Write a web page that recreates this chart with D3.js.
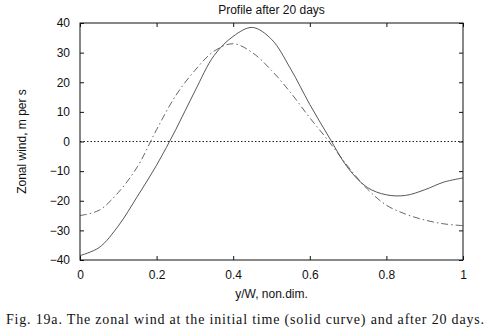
<!DOCTYPE html>
<html>
<head>
<meta charset="utf-8">
<script src="https://cdn.jsdelivr.net/npm/d3@7"></script>
<style>
  body { margin: 0; background: #fff; }
  svg { display: block; }
</style>
</head>
<body>
<div id="chart"></div>
<script>
// y/W positions and wind values (m/s)
const yPos = [0, 0.05, 0.1, 0.15, 0.2, 0.25, 0.3, 0.35, 0.4, 0.45, 0.5, 0.55, 0.6, 0.65, 0.7, 0.75, 0.8, 0.85, 0.9, 0.95, 1];
const initialWind = [-38.5, -35.8, -28.5, -18.5, -8, 4, 17, 29, 35.5, 38.5, 34.5, 24.5, 12.5, 1.5, -9, -15.5, -18, -18.2, -16.3, -13.7, -12.3];
const after20Wind = [-25, -23.2, -17.2, -8.5, 4, 15.5, 24, 30.5, 33, 30, 24, 16.5, 8, 0, -8.5, -16, -21.5, -24.5, -26.5, -27.8, -28.4];
const xTicks = [0, 0.2, 0.4, 0.6, 0.8, 1];
const yTicks = [-40, -30, -20, -10, 0, 10, 20, 30, 40];

const W = 490, H = 336;
const m = { top: 23, right: 27, bottom: 76, left: 80 };
const w = W - m.left - m.right, h = H - m.top - m.bottom;

const svg = d3.select('#chart').append('svg').attr('width', W).attr('height', H);
const g = svg.append('g').attr('transform', `translate(${m.left},${m.top})`);

const x = d3.scaleLinear().domain([0, 1]).range([0, w]);
const y = d3.scaleLinear().domain([-40, 40]).range([h, 0]);

const font = 'Arial, "Liberation Sans", Helvetica, sans-serif';

// Zero line (dotted)
g.append('line')
  .attr('x1', x(0)).attr('x2', x(1)).attr('y1', y(0)).attr('y2', y(0))
  .attr('stroke', '#222').attr('stroke-width', 1).attr('stroke-dasharray', '1.5,2');

// Curves
const line = d3.line().x((d, i) => x(yPos[i])).y(d => y(d)).curve(d3.curveCatmullRom.alpha(0.5));
g.append('path').datum(after20Wind).attr('d', line)
  .attr('fill', 'none').attr('stroke', '#555').attr('stroke-width', 0.9)
  .attr('stroke-dasharray', '7,3,1.5,3');
g.append('path').datum(initialWind).attr('d', line)
  .attr('fill', 'none').attr('stroke', '#444').attr('stroke-width', 0.9);

// Box
g.append('rect').attr('x', 0).attr('y', 0).attr('width', w).attr('height', h)
  .attr('fill', 'none').attr('stroke', '#111').attr('stroke-width', 1);

// Axes with inward ticks
const styleAxis = sel => {
  sel.select('.domain').remove();
  sel.selectAll('.tick line').attr('stroke', '#111');
  sel.selectAll('text').attr('fill', '#111').style('font-size', '12px').style('font-family', font);
};
g.append('g').attr('transform', `translate(0,${h})`)
  .call(d3.axisBottom(x).tickValues(xTicks).tickFormat(d3.format('')).tickSizeInner(-4).tickPadding(10))
  .call(styleAxis);
g.append('g')
  .call(d3.axisLeft(y).tickValues(yTicks).tickSizeInner(-4).tickPadding(10))
  .call(styleAxis);
g.append('g')
  .call(d3.axisTop(x).tickValues(xTicks).tickSizeInner(-4).tickFormat(''))
  .call(styleAxis);
g.append('g').attr('transform', `translate(${w},0)`)
  .call(d3.axisRight(y).tickValues(yTicks).tickSizeInner(-4).tickFormat(''))
  .call(styleAxis);

// Title
svg.append('text').attr('x', m.left + w / 2).attr('y', 14)
  .attr('text-anchor', 'middle').attr('fill', '#111')
  .style('font-size', '12px').style('font-family', font)
  .text('Profile after 20 days');

// Y label
svg.append('text').attr('transform', 'rotate(-90)')
  .attr('x', -(m.top + h / 2)).attr('y', 26)
  .attr('text-anchor', 'middle').attr('fill', '#111')
  .style('font-size', '12px').style('font-family', font)
  .text('Zonal wind, m per s');

// X label
svg.append('text').attr('x', m.left + w / 2).attr('y', 298)
  .attr('text-anchor', 'middle').attr('fill', '#111')
  .style('font-size', '12px').style('font-family', font)
  .text('y/W, non.dim.');

// Caption
svg.append('text').attr('x', 6).attr('y', 324)
  .attr('fill', '#111').attr('textLength', 478).attr('lengthAdjust', 'spacing')
  .style('font-size', '14px').style('font-family', '"Liberation Serif", "DejaVu Serif", serif')
  .text('Fig. 19a. The zonal wind at the initial time (solid curve) and after 20 days.');
</script>
</body>
</html>
